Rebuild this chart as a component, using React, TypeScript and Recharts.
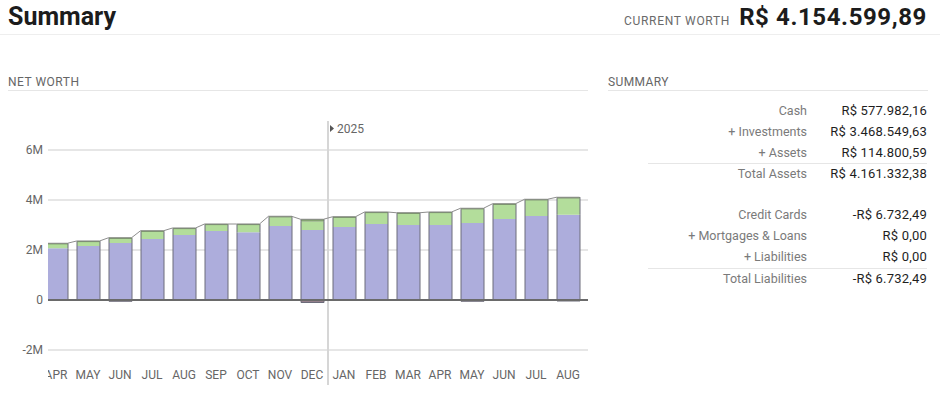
import React from 'react';
import { ComposedChart, Bar, Line, XAxis, YAxis, CartesianGrid, ReferenceLine } from 'recharts';

// months shown on the net worth chart (Apr 2024 .. Aug 2025)
const monthKeys = [
  '2024-04', '2024-05', '2024-06', '2024-07', '2024-08', '2024-09', '2024-10', '2024-11', '2024-12',
  '2025-01', '2025-02', '2025-03', '2025-04', '2025-05', '2025-06', '2025-07', '2025-08',
];
const monthLabels = ['APR', 'MAY', 'JUN', 'JUL', 'AUG', 'SEP', 'OCT', 'NOV', 'DEC', 'JAN', 'FEB', 'MAR', 'APR', 'MAY', 'JUN', 'JUL', 'AUG'];

// values in millions of R$
const investments = [2.07, 2.16, 2.28, 2.44, 2.6, 2.76, 2.71, 2.96, 2.8, 2.92, 3.04, 3.0, 3.0, 3.08, 3.24, 3.36, 3.41];
const cash = [0.17, 0.17, 0.18, 0.3, 0.25, 0.25, 0.3, 0.35, 0.33, 0.37, 0.44, 0.45, 0.48, 0.55, 0.57, 0.63, 0.65];
const assets = [0.03, 0.03, 0.03, 0.03, 0.03, 0.03, 0.03, 0.04, 0.1, 0.04, 0.04, 0.04, 0.04, 0.04, 0.04, 0.04, 0.05];
const liabilities = [0, 0, -0.05, 0, 0, 0, 0, 0, -0.1, 0, 0, 0, 0, -0.05, 0, 0, -0.04];

const yTicks = [-2, 0, 2, 4, 6];
const yearStartKey = '2025-01';
const yearLabel = '2025';

const summaryAssets = [
  ['Cash', 'R$ 577.982,16'],
  ['+ Investments', 'R$ 3.468.549,63'],
  ['+ Assets', 'R$ 114.800,59'],
];
const totalAssets = ['Total Assets', 'R$ 4.161.332,38'];
const summaryLiabilities = [
  ['Credit Cards', '-R$ 6.732,49'],
  ['+ Mortgages & Loans', 'R$ 0,00'],
  ['+ Liabilities', 'R$ 0,00'],
];
const totalLiabilities = ['Total Liabilities', '-R$ 6.732,49'];
const currentWorth = 'R$ 4.154.599,89';

const rows = monthKeys.map((key, i) => ({
  key,
  investments: investments[i],
  cash: cash[i],
  assets: assets[i],
  liabilities: liabilities[i],
}));

// bar width 23 inside a 32px slot -> bar edges in slot units
const SLOT = 32;
const BAR = 23;
const edge = (SLOT - BAR) / 2 / SLOT;
const topLine = rows.flatMap((r, i) => {
  const total = r.investments + r.cash + r.assets;
  return [
    { u: i + edge, v: total },
    { u: i + 1 - edge, v: total },
  ];
});

const SIDE = '#6c6c7a';

const seg = (fill: string, top?: string, full?: boolean) => (p: any) => {
  const { x, y, width, height } = p;
  if (!height) return <g />;
  const y0 = Math.min(y, y + height);
  const h = Math.abs(height);
  return (
    <g>
      <rect x={x} y={y0} width={width} height={h} fill={fill} />
      <line x1={x} y1={y0} x2={x} y2={y0 + h} stroke={SIDE} strokeWidth={1} />
      <line x1={x + width} y1={y0} x2={x + width} y2={y0 + h} stroke={SIDE} strokeWidth={1} />
      {top && <line x1={x} y1={y0 + 0.5} x2={x + width} y2={y0 + 0.5} stroke={top} strokeWidth={1.2} />}
      {full && <line x1={x} y1={y0 + h} x2={x + width} y2={y0 + h} stroke={SIDE} strokeWidth={1} />}
    </g>
  );
};

const YearMarker = (p: any) => {
  const top = Math.min(p.y1, p.y2);
  const bottom = Math.max(p.y1, p.y2);
  return (
    <g>
      <line x1={p.x1} y1={top + 1} x2={p.x1} y2={bottom + 25} stroke="#d6d6d6" strokeWidth={2} />
      <path d={`M${p.x1 + 2},${top + 5} l4,3.5 l-4,3.5 z`} fill="#555" />
      <text x={p.x1 + 9} y={top + 12.5} fontSize={12} fill="#666">
        {yearLabel}
      </text>
    </g>
  );
};

const NetWorthChart = () => (
  <ComposedChart
    width={600}
    height={295}
    data={rows}
    stackOffset="sign"
    barSize={BAR}
    margin={{ top: 20, right: 12, left: 0, bottom: 0 }}
  >
    <CartesianGrid vertical={false} syncWithTicks stroke="#dedede" strokeWidth={1.5} />
    <XAxis
      dataKey="key"
      interval={0}
      axisLine={false}
      tickLine={false}
      tickSize={0}
      tickMargin={10}
      height={35}
      padding={{ left: -8, right: 4 }}
      tick={{ fill: '#666', fontSize: 12 }}
      tickFormatter={(_v: string, i: number) => monthLabels[i]}
    />
    <XAxis xAxisId="pos" type="number" dataKey="u" domain={[0.25, 17.125]} allowDataOverflow hide />
    <YAxis
      domain={[-2.4, 7.2]}
      ticks={yTicks}
      width={48}
      axisLine={false}
      tickLine={false}
      tickSize={0}
      tickMargin={5}
      tick={{ fill: '#666', fontSize: 12 }}
      tickFormatter={(v: number) => (v === 0 ? '0' : `${v}M`)}
    />
    <ReferenceLine x={yearStartKey} position="start" shape={YearMarker} />
    <Bar dataKey="investments" stackId="nw" shape={seg('#adaddc')} isAnimationActive={false} />
    <Bar dataKey="cash" stackId="nw" shape={seg('#b3dd9b')} isAnimationActive={false} />
    <Bar dataKey="assets" stackId="nw" shape={seg('#8fae7c', '#6f8c5e')} isAnimationActive={false} />
    <Bar dataKey="liabilities" stackId="nw" shape={seg('#94808c', undefined, true)} isAnimationActive={false} />
    <Line
      xAxisId="pos"
      data={topLine}
      dataKey="v"
      type="linear"
      stroke="#8e8e8e"
      strokeWidth={1}
      dot={false}
      activeDot={false}
      isAnimationActive={false}
    />
    <ReferenceLine y={0} stroke="#6a6a6a" strokeWidth={2} />
  </ComposedChart>
);

const SummaryRow = ({ label, value, y }: { label: string; value: string; y: number }) => (
  <>
    <div style={{ position: 'absolute', right: 944 - 807, top: y - 8, lineHeight: '16px', fontSize: 12.5, color: '#7a7a7a', whiteSpace: 'nowrap' }}>
      {label}
    </div>
    <div style={{ position: 'absolute', right: 944 - 927, top: y - 8, lineHeight: '16px', fontSize: 13, letterSpacing: 0.2, color: '#1e1e1e', whiteSpace: 'nowrap' }}>
      {value}
    </div>
  </>
);

export default function App() {
  return (
    <div
      style={{
        position: 'absolute',
        left: 0,
        top: 0,
        width: 944,
        height: 395,
        background: '#fff',
        overflow: 'hidden',
        fontFamily: 'Roboto, "Liberation Sans", sans-serif',
      }}
    >
      <div style={{ position: 'absolute', left: 8, top: 2, fontSize: 25, fontWeight: 700, color: '#1c1c1c', lineHeight: '30px' }}>
        Summary
      </div>
      <div style={{ position: 'absolute', right: 17, top: 2, display: 'flex', alignItems: 'baseline', gap: 9, lineHeight: '30px' }}>
        <span style={{ fontSize: 12, color: '#6a6a6a', letterSpacing: 0.7 }}>CURRENT WORTH</span>
        <span style={{ fontSize: 24, fontWeight: 700, color: '#1c1c1c', letterSpacing: 0.6 }}>{currentWorth}</span>
      </div>
      <div style={{ position: 'absolute', left: 0, top: 34, width: 940, height: 1, background: '#eeeeee' }} />

      <div style={{ position: 'absolute', left: 8, top: 74, fontSize: 12, color: '#666', lineHeight: '16px', letterSpacing: 0.5 }}>NET WORTH</div>
      <div style={{ position: 'absolute', left: 8, top: 90, width: 580, height: 1, background: '#e6e6e6' }} />
      <div style={{ position: 'absolute', left: 608, top: 74, fontSize: 12, color: '#666', lineHeight: '16px', letterSpacing: 0.4 }}>SUMMARY</div>
      <div style={{ position: 'absolute', left: 608, top: 90, width: 320, height: 1, background: '#e6e6e6' }} />

      {summaryAssets.map(([l, v], i) => (
        <SummaryRow key={l} label={l} value={v} y={111 + i * 21} />
      ))}
      <div style={{ position: 'absolute', left: 648, top: 163, width: 279, height: 1, background: '#e6e6e6' }} />
      <SummaryRow label={totalAssets[0]} value={totalAssets[1]} y={174} />
      {summaryLiabilities.map(([l, v], i) => (
        <SummaryRow key={l} label={l} value={v} y={215 + i * 21} />
      ))}
      <div style={{ position: 'absolute', left: 648, top: 268, width: 279, height: 1, background: '#e6e6e6' }} />
      <SummaryRow label={totalLiabilities[0]} value={totalLiabilities[1]} y={279} />

      <div style={{ position: 'absolute', left: 0, top: 100 }}>
        <NetWorthChart />
      </div>
      {/* scrolled-off part of the first month */}
      <div style={{ position: 'absolute', left: 44, top: 110, width: 4, height: 280, background: '#fff' }} />
    </div>
  );
}
